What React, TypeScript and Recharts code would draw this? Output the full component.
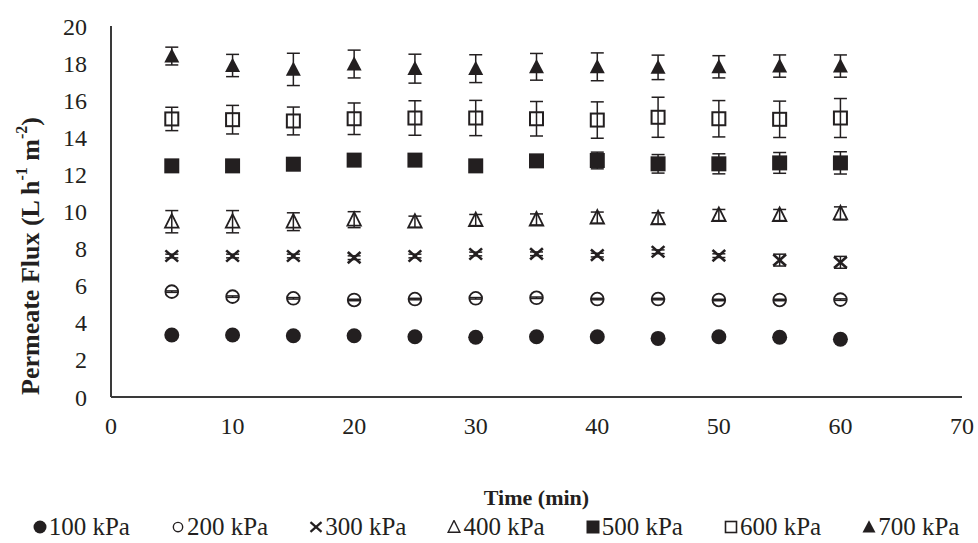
import React from 'react';
import { ScatterChart, Scatter, XAxis, YAxis, ErrorBar, Legend } from 'recharts';

// sampling times (min)
const times = [5, 10, 15, 20, 25, 30, 35, 40, 45, 50, 55, 60];

// permeate flux per pressure (L h-1 m-2) and its error
const flux100 = [3.34, 3.34, 3.3, 3.3, 3.25, 3.22, 3.25, 3.25, 3.16, 3.25, 3.22, 3.11];
const err100 = [0.05, 0.05, 0.05, 0.05, 0.05, 0.05, 0.05, 0.05, 0.05, 0.05, 0.05, 0.05];
const flux200 = [5.68, 5.41, 5.32, 5.23, 5.28, 5.32, 5.35, 5.28, 5.28, 5.23, 5.23, 5.25];
const err200 = [0.04, 0.04, 0.04, 0.04, 0.04, 0.04, 0.04, 0.04, 0.04, 0.04, 0.04, 0.04];
const flux300 = [7.6, 7.6, 7.6, 7.51, 7.6, 7.71, 7.72, 7.65, 7.83, 7.62, 7.38, 7.26];
const err300 = [0.1, 0.1, 0.1, 0.1, 0.1, 0.1, 0.1, 0.1, 0.1, 0.1, 0.32, 0.32];
const flux400 = [9.45, 9.45, 9.45, 9.56, 9.45, 9.54, 9.57, 9.67, 9.63, 9.81, 9.81, 9.9];
const err400 = [0.6, 0.6, 0.48, 0.43, 0.3, 0.3, 0.3, 0.3, 0.3, 0.3, 0.3, 0.35];
const flux500 = [12.46, 12.46, 12.55, 12.77, 12.77, 12.46, 12.73, 12.75, 12.57, 12.57, 12.62, 12.62];
const err500 = [0.2, 0.2, 0.2, 0.2, 0.2, 0.2, 0.2, 0.45, 0.5, 0.54, 0.56, 0.6];
const flux600 = [14.99, 14.95, 14.88, 15.0, 15.04, 15.04, 15.0, 14.93, 15.08, 15.0, 14.97, 15.04];
const err600 = [0.63, 0.77, 0.75, 0.85, 0.93, 0.95, 0.93, 0.98, 1.08, 0.98, 0.98, 1.05];
const flux700 = [18.38, 17.87, 17.66, 17.95, 17.7, 17.7, 17.8, 17.8, 17.77, 17.8, 17.84, 17.84];
const err700 = [0.48, 0.6, 0.87, 0.75, 0.78, 0.75, 0.72, 0.75, 0.66, 0.6, 0.6, 0.6];

const xTicks = [0, 10, 20, 30, 40, 50, 60, 70];
const yTicks = [0, 2, 4, 6, 8, 10, 12, 14, 16, 18, 20];

const INK = '#231f20';
const FONT = '"Liberation Serif", "Times New Roman", serif';

type Kind = 'dot' | 'ring' | 'x' | 'tri' | 'sq' | 'box' | 'fTri';

const series: { name: string; kind: Kind; flux: number[]; err: number[] }[] = [
  { name: '100 kPa', kind: 'dot', flux: flux100, err: err100 },
  { name: '200 kPa', kind: 'ring', flux: flux200, err: err200 },
  { name: '300 kPa', kind: 'x', flux: flux300, err: err300 },
  { name: '400 kPa', kind: 'tri', flux: flux400, err: err400 },
  { name: '500 kPa', kind: 'sq', flux: flux500, err: err500 },
  { name: '600 kPa', kind: 'box', flux: flux600, err: err600 },
  { name: '700 kPa', kind: 'fTri', flux: flux700, err: err700 },
];

// draws one marker centred at (cx, cy); s = half size, w = stroke width
const Mark = ({ kind, cx, cy, s, w = 1.8 }: { kind: Kind; cx: number; cy: number; s: number; w?: number }) => {
  switch (kind) {
    case 'dot':
      return <circle cx={cx} cy={cy} r={s} fill={INK} />;
    case 'ring':
      return <circle cx={cx} cy={cy} r={s * 0.85} fill="none" stroke={INK} strokeWidth={w} />;
    case 'x':
      return (
        <g stroke={INK} strokeWidth={w + 0.8}>
          <line x1={cx - s * 0.85} y1={cy - s * 0.75} x2={cx + s * 0.85} y2={cy + s * 0.75} />
          <line x1={cx - s * 0.85} y1={cy + s * 0.75} x2={cx + s * 0.85} y2={cy - s * 0.75} />
        </g>
      );
    case 'tri':
      return (
        <polygon
          points={`${cx},${cy - s} ${cx - s * 0.9},${cy + s * 0.8} ${cx + s * 0.9},${cy + s * 0.8}`}
          fill="none"
          stroke={INK}
          strokeWidth={w}
        />
      );
    case 'fTri':
      return (
        <polygon
          points={`${cx},${cy - s * 1.05} ${cx - s},${cy + s * 0.85} ${cx + s},${cy + s * 0.85}`}
          fill={INK}
        />
      );
    case 'sq':
      return <rect x={cx - s} y={cy - s} width={s * 2} height={s * 2} fill={INK} />;
    case 'box':
      return (
        <rect x={cx - s + 1} y={cy - s + 1} width={s * 2 - 2} height={s * 2 - 2} fill="none" stroke={INK} strokeWidth={w + 0.2} />
      );
  }
  return null;
};

const YTitle = () => (
  <text
    x={30}
    y={256}
    transform="rotate(-90 30 256)"
    textAnchor="middle"
    dominantBaseline="central"
    fontFamily={FONT}
    fontWeight="bold"
    fontSize={26}
    fill={INK}
  >
    Permeate Flux (L h
    <tspan fontSize={16} dy={-9}>-1</tspan>
    <tspan dy={9}> m</tspan>
    <tspan fontSize={16} dy={-9}>-2</tspan>
    <tspan dy={9}>)</tspan>
  </text>
);

const LegendBox = () => (
  <div
    style={{
      display: 'flex',
      justifyContent: 'center',
      gap: 41,
      paddingLeft: 14,
      fontFamily: FONT,
      fontSize: 25,
      color: INK,
      lineHeight: '30px',
    }}
  >
    {series.map((s) => (
      <div key={s.name} style={{ display: 'flex', alignItems: 'center', gap: 2 }}>
        <svg width={14} height={14}>
          <Mark kind={s.kind} cx={7} cy={7} s={s.kind === 'ring' ? 5.5 : 6.5} w={1.4} />
        </svg>
        <span>{s.name}</span>
      </div>
    ))}
  </div>
);

export default function App() {
  return (
    <div style={{ position: 'absolute', left: 0, top: 0, background: '#fff' }}>
      <ScatterChart width={978} height={543} margin={{ top: 26, right: 16, left: 51, bottom: 0 }}>
        <XAxis
          type="number"
          dataKey="x"
          domain={[0, 70]}
          ticks={xTicks}
          height={146}
          axisLine={{ stroke: '#3a3a3a', strokeWidth: 2 }}
          tickLine={false}
          tickSize={0}
          tickMargin={20}
          tick={{ fill: INK, fontFamily: FONT, fontSize: 24 }}
          label={{
            value: 'Time (min)',
            position: 'insideBottom',
            offset: 38,
            style: { fill: INK, fontFamily: FONT, fontSize: 22, fontWeight: 'bold' },
          }}
        />
        <YAxis
          type="number"
          dataKey="y"
          domain={[0, 20]}
          ticks={yTicks}
          width={60}
          axisLine={{ stroke: '#3a3a3a', strokeWidth: 2 }}
          tickLine={false}
          tickSize={0}
          tickMargin={24}
          tick={{ fill: INK, fontFamily: FONT, fontSize: 24 }}
          label={<YTitle />}
        />
        <Legend
          layout="horizontal"
          verticalAlign="middle"
          align="center"
          wrapperStyle={{ top: 512, left: 0, width: 978 }}
          content={() => <LegendBox />}
        />
        {series.map((s) => (
          <Scatter
            key={s.name}
            name={s.name}
            data={times.map((t, i) => ({ x: t, y: s.flux[i], e: s.err[i] }))}
            isAnimationActive={false}
            shape={(p: any) => <Mark kind={s.kind} cx={p.cx} cy={p.cy} s={7.5} />}
          >
            <ErrorBar dataKey="e" direction="y" width={6.5} stroke={INK} strokeWidth={1.5} isAnimationActive={false} />
          </Scatter>
        ))}
      </ScatterChart>
    </div>
  );
}
